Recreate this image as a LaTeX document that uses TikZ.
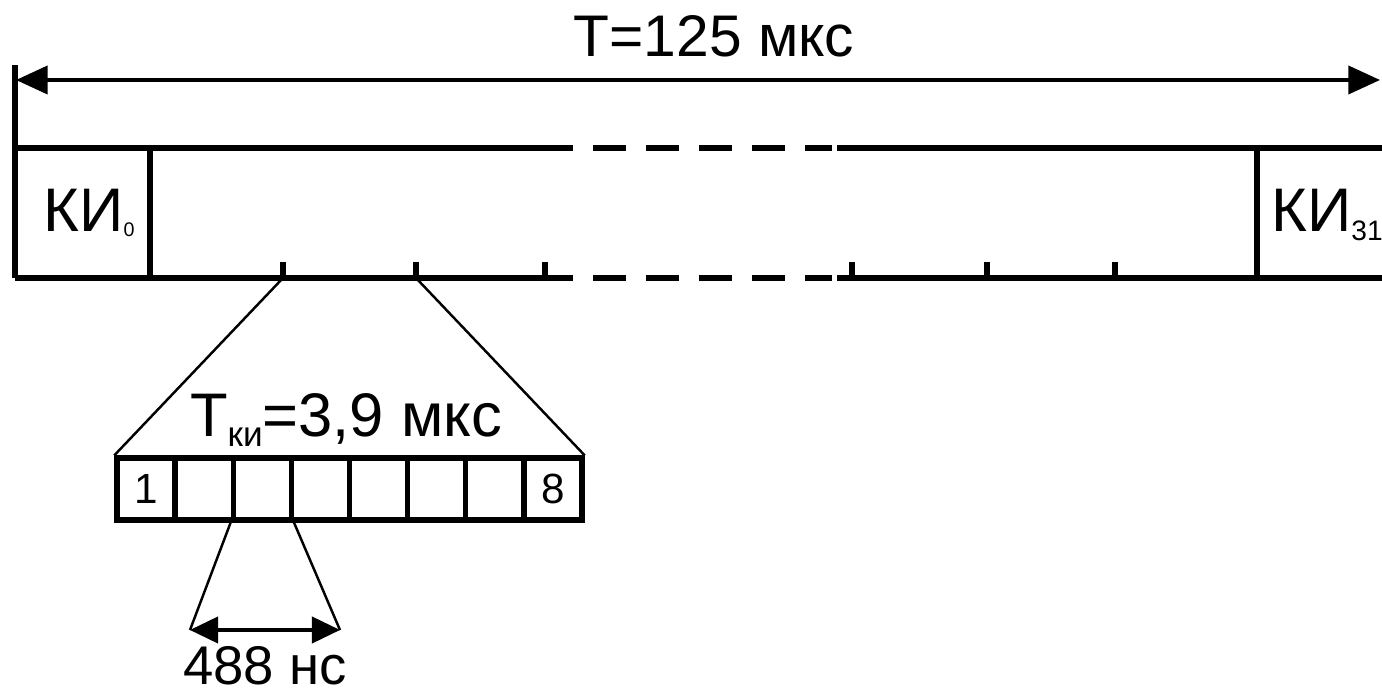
\documentclass[tikz,border=0pt]{standalone}
\usepackage{fontspec}
\setmainfont{Liberation Sans}
\usetikzlibrary{arrows.meta}

\newcommand{\lowsub}[3]{\raisebox{-#2}{\fontsize{#1}{#1}\selectfont #3}}

\begin{document}
\begin{tikzpicture}
  [
    x=0.01cm, y=-0.01cm,
    frame/.style={line width=1.6pt},
    gap/.style={frame, dash pattern=on 9.4pt off 5.7pt, dash phase=9.4pt},
    fan/.style={line width=0.7pt},
    slot/.style={draw, line width=1.5pt, inner sep=0pt,
                 minimum width=0.58125cm, minimum height=0.62cm,
                 font=\fontsize{12}{12}\selectfont},
    big/.style={font=\fontsize{16.7}{17}\selectfont, inner sep=0pt, anchor=base},
    span/.style={<->, >={Triangle[length=9pt, width=8pt]}, line width=1pt},
    small span/.style={span, >={Triangle[length=8pt, width=7.5pt]}, line width=0.9pt}
  ]
  \useasboundingbox (0,0) rectangle (1382,695);

  % overall period
  \coordinate (lft) at (16,80);
  \coordinate (rgt) at (1380,80);
  \draw[span] (lft) -- (rgt);
  \node[big] (title) at (714,57) {T=125 мкс};

  % frame of 32 time slots
  \draw[frame] (15,65) -- (15,278);
  \draw[frame] (15,148) -- (573,148);
  \draw[gap] (573,148) -- (832,148);
  \draw[frame] (837,148) -- (1382,148);
  \draw[frame] (15,278) -- (573,278);
  \draw[gap] (573,278) -- (832,278);
  \draw[frame] (837,278) -- (1382,278);
  \draw[frame] (150,148) -- (150,278);
  \draw[frame] (1257,148) -- (1257,278);
  \foreach \x/\n in {283/a, 416/b, 545/c, 852/d, 987/e, 1115/f} {
    \draw[frame] (\x,262) -- (\x,278);
    \coordinate (t\n) at (\x,278);
  }
  \node[big, font=\fontsize{17.5}{18}\selectfont] (ki0) at (89,232)
    {КИ\lowsub{5.6}{1.4pt}{0}};
  \node[big, font=\fontsize{17.5}{18}\selectfont] (ki31) at (1327,232)
    {КИ\lowsub{8}{2.3pt}{31}};

  % one slot: 8 bits
  \foreach \i/\t in {1/1, 2/{}, 3/{}, 4/{}, 5/{}, 6/{}, 7/{}, 8/8}
    \node[slot] (c\i) at ({146.06+(\i-1)*58.125},489) {\t};
  \draw[fan] (ta) -- (c1.north west);
  \draw[fan] (tb) -- (c8.north east);
  \node[big, font=\fontsize{17.5}{18}\selectfont] (tki) at (346,437)
    {T\lowsub{10}{2.8pt}{ки}=3,9 мкс};

  % one bit
  \coordinate (bl) at (190,630);
  \coordinate (br) at (340,630);
  \draw[fan] (c3.south west) -- (bl);
  \draw[fan] (c3.south east) -- (br);
  \draw[small span] (bl) -- (br);
  \node[big, font=\fontsize{15.5}{16}\selectfont] (dur) at (265,685) {488 нс};
\end{tikzpicture}
\end{document}
